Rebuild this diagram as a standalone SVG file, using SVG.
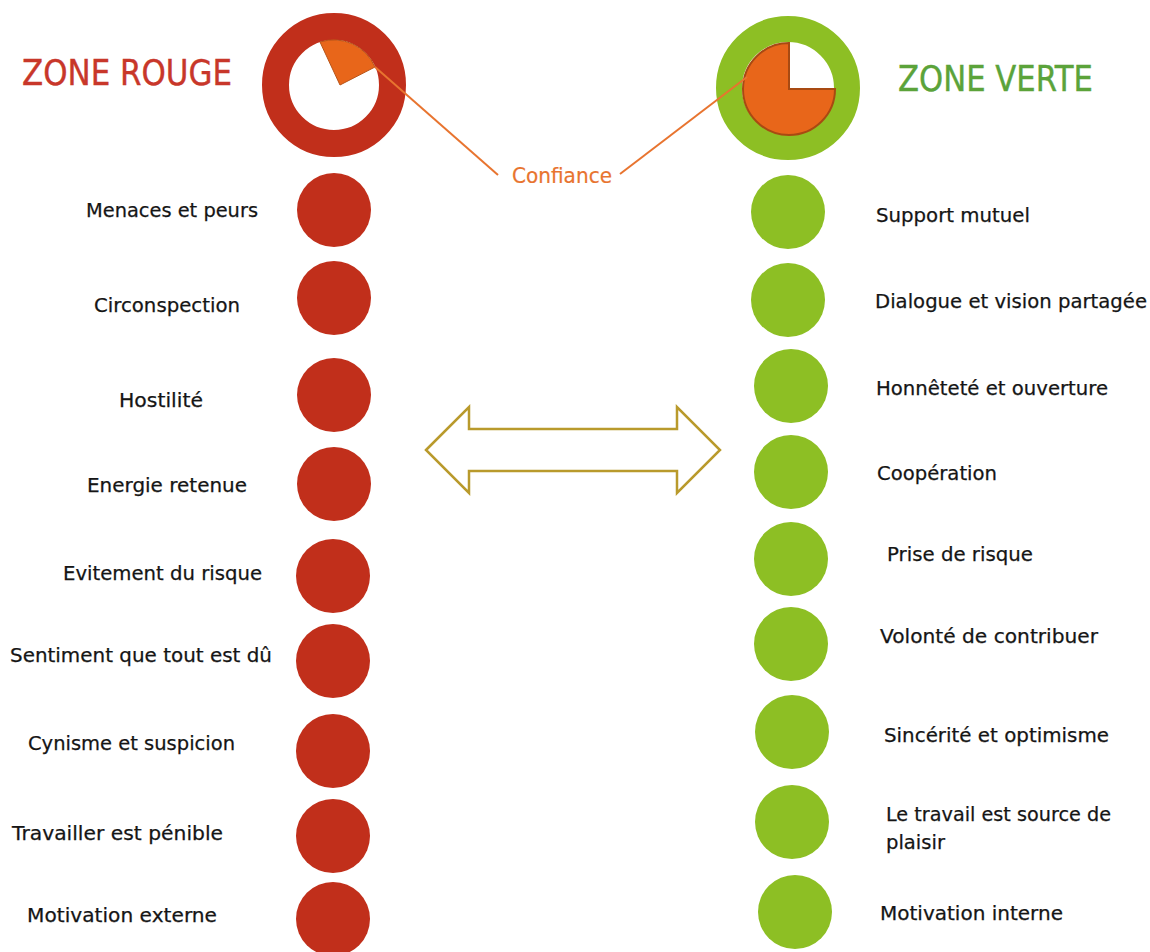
<svg xmlns="http://www.w3.org/2000/svg" width="1150" height="952" viewBox="0 0 1150 952">
<style>
.lbl{font-family:"DejaVu Sans",Verdana,sans-serif;font-size:20px;fill:#151515;stroke:#151515;stroke-width:0.25}
.title{font-family:"DejaVu Sans",Verdana,sans-serif;font-size:35px;stroke-width:0.4}
.red{fill:#C12F1B}
.green{fill:#8DBF24}
.conn{stroke:#E8742F;stroke-width:2;fill:none}
</style>
<rect width="1150" height="952" fill="#ffffff"/>
<g id="zone-rouge">
<text class="title" x="22" y="85" fill="#C8372A" stroke="#C8372A" textLength="210" lengthAdjust="spacingAndGlyphs">ZONE ROUGE</text>
<circle cx="334" cy="85" r="58.5" fill="#ffffff" stroke="#C12F1B" stroke-width="27"/>
<path d="M340,85 L320,42 A45,45 0 0,1 375,67 Z" fill="#E8661A" stroke="#B85418" stroke-width="1"/>
</g>
<g id="zone-verte">
<text class="title" x="898" y="91" fill="#5BA33A" stroke="#5BA33A" textLength="195" lengthAdjust="spacingAndGlyphs">ZONE VERTE</text>
<circle cx="788" cy="88" r="59" fill="#ffffff" stroke="#8DBF24" stroke-width="26"/>
<path d="M789,89 L789,43 A46,46 0 1,0 835,89 Z" fill="#E8661A" stroke="#A84A12" stroke-width="2"/>
</g>
<g id="connectors">
<line class="conn" x1="375" y1="67" x2="498" y2="175"/>
<line class="conn" x1="620" y1="174" x2="747" y2="77"/>
<polygon points="426,450 469,407 469,429 677,429 677,407 720,450 677,493 677,471 469,471 469,493" fill="none" stroke="#B99A2C" stroke-width="2.5" stroke-linejoin="miter"/>
</g>
<g id="confiance">
<text x="512" y="183" font-family="DejaVu Sans,Verdana,sans-serif" font-size="20.5" fill="#E8742F" stroke="#E8742F" stroke-width="0.2" textLength="100" lengthAdjust="spacingAndGlyphs">Confiance</text>
</g>
<g id="red-items">
<g id="r1"><circle class="red" cx="334" cy="210" r="37"/><text class="lbl" x="86" y="217" textLength="172" lengthAdjust="spacingAndGlyphs">Menaces et peurs</text></g>
<g id="r2"><circle class="red" cx="334" cy="298" r="37"/><text class="lbl" x="94" y="312" textLength="146" lengthAdjust="spacingAndGlyphs">Circonspection</text></g>
<g id="r3"><circle class="red" cx="334" cy="395" r="37"/><text class="lbl" x="119" y="407" textLength="84" lengthAdjust="spacingAndGlyphs">Hostilité</text></g>
<g id="r4"><circle class="red" cx="334" cy="484" r="37"/><text class="lbl" x="87" y="492" textLength="160" lengthAdjust="spacingAndGlyphs">Energie retenue</text></g>
<g id="r5"><circle class="red" cx="333" cy="576" r="37"/><text class="lbl" x="63" y="580" textLength="199" lengthAdjust="spacingAndGlyphs">Evitement du risque</text></g>
<g id="r6"><circle class="red" cx="333" cy="661" r="37"/><text class="lbl" x="10" y="662" textLength="262" lengthAdjust="spacingAndGlyphs">Sentiment que tout est dû</text></g>
<g id="r7"><circle class="red" cx="333" cy="751" r="37"/><text class="lbl" x="28" y="750" textLength="207" lengthAdjust="spacingAndGlyphs">Cynisme et suspicion</text></g>
<g id="r8"><circle class="red" cx="333" cy="836" r="37"/><text class="lbl" x="12" y="840" textLength="211" lengthAdjust="spacingAndGlyphs">Travailler est pénible</text></g>
<g id="r9"><circle class="red" cx="333" cy="919" r="37"/><text class="lbl" x="27" y="922" textLength="190" lengthAdjust="spacingAndGlyphs">Motivation externe</text></g>
</g>
<g id="green-items">
<g id="g1"><circle class="green" cx="788" cy="212" r="37"/><text class="lbl" x="876" y="222" textLength="154" lengthAdjust="spacingAndGlyphs">Support mutuel</text></g>
<g id="g2"><circle class="green" cx="788" cy="300" r="37"/><text class="lbl" x="875" y="308" textLength="272" lengthAdjust="spacingAndGlyphs">Dialogue et vision partagée</text></g>
<g id="g3"><circle class="green" cx="791" cy="386" r="37"/><text class="lbl" x="876" y="395" textLength="232" lengthAdjust="spacingAndGlyphs">Honnêteté et ouverture</text></g>
<g id="g4"><circle class="green" cx="791" cy="472" r="37"/><text class="lbl" x="877" y="480" textLength="120" lengthAdjust="spacingAndGlyphs">Coopération</text></g>
<g id="g5"><circle class="green" cx="791" cy="559" r="37"/><text class="lbl" x="887" y="561" textLength="146" lengthAdjust="spacingAndGlyphs">Prise de risque</text></g>
<g id="g6"><circle class="green" cx="791" cy="644" r="37"/><text class="lbl" x="880" y="643" textLength="218" lengthAdjust="spacingAndGlyphs">Volonté de contribuer</text></g>
<g id="g7"><circle class="green" cx="792" cy="732" r="37"/><text class="lbl" x="884" y="742" textLength="225" lengthAdjust="spacingAndGlyphs">Sincérité et optimisme</text></g>
<g id="g8"><circle class="green" cx="792" cy="822" r="37"/><text class="lbl" x="886" y="821" textLength="225" lengthAdjust="spacingAndGlyphs">Le travail est source de</text><text class="lbl" x="886" y="849" textLength="59" lengthAdjust="spacingAndGlyphs">plaisir</text></g>
<g id="g9"><circle class="green" cx="795" cy="912" r="37"/><text class="lbl" x="880" y="920" textLength="183" lengthAdjust="spacingAndGlyphs">Motivation interne</text></g>
</g>
</svg>
